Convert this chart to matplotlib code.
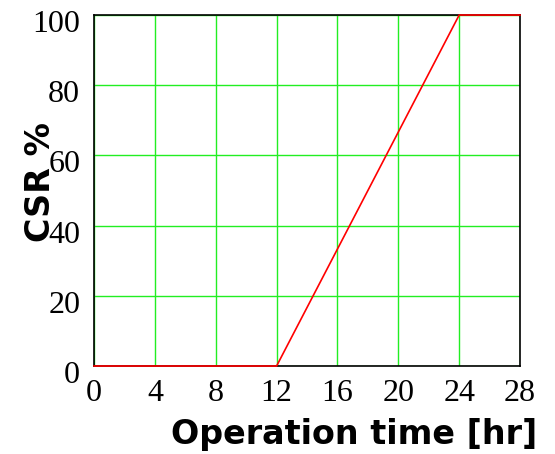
import matplotlib
matplotlib.use("Agg")
import matplotlib.pyplot as plt
import matplotlib.transforms as mtransforms

# CSR ramp: off until 12 hr, rises to 100 % at 24 hr, stays there
time_hr = [0, 12, 24, 28]
csr_pct = [0, 0, 100, 100]
x_ticks = [0, 4, 8, 12, 16, 20, 24, 28]
y_ticks = [0, 20, 40, 60, 80, 100]

fig = plt.figure(figsize=(5.55, 4.54), dpi=100)
ax = fig.add_axes([0.1694, 0.1938, 0.7676, 0.7731])

ax.plot(time_hr, csr_pct, color="red", lw=1.2, zorder=3, clip_on=False)

ax.set_xlim(0, 28)
ax.set_ylim(0, 100)
ax.set_xticks(x_ticks)
ax.set_yticks(y_ticks)
ax.grid(True, color="#22ee22", lw=1.0)
ax.set_axisbelow(True)
ax.tick_params(length=0, labelsize=23)
ax.tick_params(axis="x", pad=9)
ax.tick_params(axis="y", pad=10)
for lab in ax.get_xticklabels() + ax.get_yticklabels():
    lab.set_fontfamily("Liberation Serif")
for lab in ax.get_yticklabels():
    lab.set_transform(lab.get_transform() + mtransforms.ScaledTranslation(0, -6 / 100, fig.dpi_scale_trans))

for s in ax.spines.values():
    s.set_color("black")
    s.set_linewidth(1.2)

fig.text(537 / 555, 0.044, "Operation time [hr]", ha="right", va="center",
         fontsize=24, fontweight="bold", family="DejaVu Sans")
fig.text(41 / 555, 1 - 182 / 454, "CSR %", ha="center", va="center", rotation=90,
         fontsize=24, fontweight="bold", family="DejaVu Sans")

fig.savefig("out.png", dpi=100)
